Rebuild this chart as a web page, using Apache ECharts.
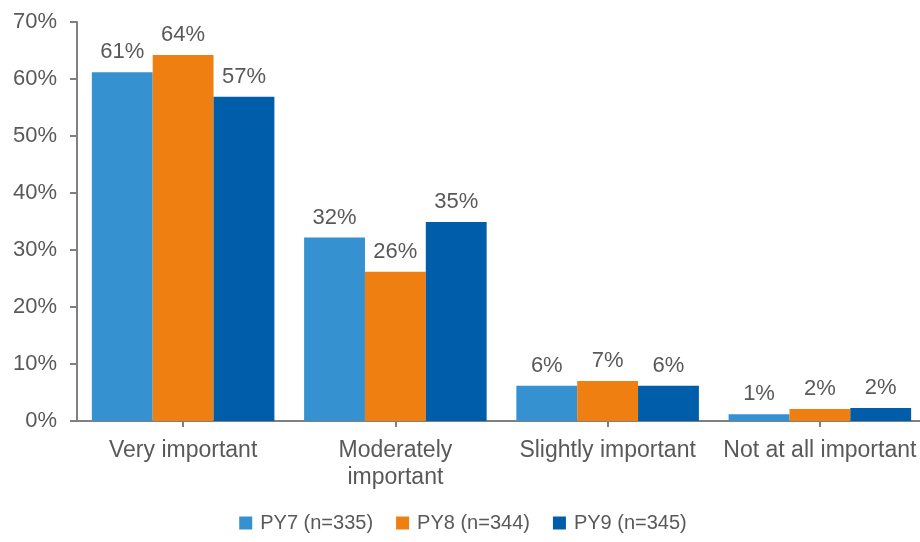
<!DOCTYPE html>
<html>
<head>
<meta charset="utf-8">
<script src="https://cdn.jsdelivr.net/npm/echarts@6/dist/echarts.min.js"></script>
<style>html,body{margin:0;padding:0;background:#fff;overflow:hidden;width:920px;height:542px}#c{width:926px;height:542px}</style>
</head>
<body>
<div id="c"></div>
<script>
var categories = ["Very important", "Moderately\nimportant", "Slightly important", "Not at all important"];
var seriesNames = ["PY7 (n=335)", "PY8 (n=344)", "PY9 (n=345)"];
var py7 = [61.2, 32.2, 6.2, 1.2];
var py8 = [64.2, 26.2, 7.0, 2.1];
var py9 = [56.9, 34.9, 6.2, 2.3];
var colors = ["#3591D0", "#F07F12", "#005DAA"];
var yTicks = [0, 10, 20, 30, 40, 50, 60, 70];

var font = "'Liberation Sans', Arial, sans-serif";
var txt = "#595959";
var chart = echarts.init(document.getElementById('c'), null, {renderer: 'canvas'});
function mk(name, data, color) {
  return {
    name: name, type: 'bar', data: data,
    barGap: '0%', barCategoryGap: '14%',
    itemStyle: {color: color},
    label: {show: true, position: 'top', distance: 9, color: txt, fontSize: 22, fontFamily: font,
      formatter: function(p){ return Math.round(p.value) + '%'; }}
  };
}
chart.setOption({
  animation: false,
  textStyle: {fontFamily: font},
  grid: {left: 77, right: 0, top: 22, bottom: 121},
  legend: {
    bottom: 4, left: 'center', itemWidth: 13, itemHeight: 13, itemGap: 23,
    icon: 'rect',
    textStyle: {color: txt, fontSize: 20, fontFamily: font, padding: [0, 0, 0, 3]},
    data: seriesNames
  },
  xAxis: {
    type: 'category', data: categories,
    axisLine: {lineStyle: {color: '#808080', width: 2}},
    axisTick: {show: true, alignWithLabel: true, length: 6, lineStyle: {color: '#808080', width: 2}},
    axisLabel: {color: txt, fontSize: 23, fontFamily: font, margin: 16, lineHeight: 27, interval: 0}
  },
  yAxis: {
    type: 'value', min: yTicks[0], max: yTicks[yTicks.length-1], interval: 10,
    axisLine: {show: true, lineStyle: {color: '#808080', width: 2}},
    axisTick: {show: true, length: 7, lineStyle: {color: '#808080', width: 2}},
    splitLine: {show: false},
    axisLabel: {color: txt, fontSize: 22, fontFamily: font, margin: 20, formatter: '{value}%'}
  },
  series: [mk(seriesNames[0], py7, colors[0]), mk(seriesNames[1], py8, colors[1]), mk(seriesNames[2], py9, colors[2])]
});
</script>
</body>
</html>
